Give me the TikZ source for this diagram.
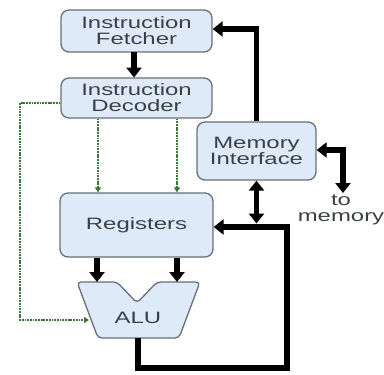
\documentclass[tikz,border=0pt]{standalone}
\usepackage{fontspec}
\newfontfamily\lab[FakeStretch=1.45]{Liberation Sans}
\usetikzlibrary{arrows.meta,calc}
\definecolor{boxfill}{RGB}{222,234,248}
\definecolor{boxline}{RGB}{105,112,120}
\definecolor{txt}{RGB}{60,64,70}
\definecolor{ctl}{RGB}{55,120,55}
\tikzset{
  unit/.style={draw=boxline, line width=1.3pt, fill=boxfill, rounded corners=8pt,
    text=txt, align=center, inner sep=0pt, font=\lab\fontsize{16.5}{16}\selectfont},
  bus/.style={line width=5.5pt, draw=black, -{Triangle[width=15pt,length=10pt]}},
  bibus/.style={line width=5.5pt, draw=black, {Triangle[width=15pt,length=10pt]}-{Triangle[width=15pt,length=10pt]}},
  ctrl/.style={draw=ctl, line width=1.4pt, dash pattern=on 1.8pt off 0.9pt, -{Triangle[width=6pt,length=5pt]}},
  lbl/.style={text=txt, align=center, font=\lab\fontsize{16.5}{16}\selectfont}
}
\begin{document}
\begin{tikzpicture}[x=1pt,y=-1pt]
\useasboundingbox (0,0) rectangle (384,375);
\node[unit, minimum width=151pt, minimum height=42pt] (fetch) at (136.5,31) {Instruction\\Fetcher};
\node[unit, minimum width=151pt, minimum height=40pt] (dec) at (136.5,98) {Instruction\\Decoder};
\node[unit, minimum width=119pt, minimum height=58pt] (mem) at (256.5,151) {Memory\\Interface};
\node[unit, minimum width=153pt, minimum height=64pt] (reg) at (136.5,225) {Registers};
% ALU shape
\coordinate (a1) at (97,282);
\coordinate (a2) at (177,282);
\filldraw[draw=boxline, line width=1.3pt, fill=boxfill, rounded corners=4pt]
  (77,282) -- (117,282) -- (137,303) -- (157,282) -- (200,282) -- (179,338) -- (98,338) -- cycle;
\node[lbl] (alu) at (138,318) {ALU};
\coordinate (aluout) at (138,338);
\coordinate (aluin) at (89,320);
% memory side
\node[lbl] (tomem) at (341,210) {to\\memory};
\coordinate (memc) at (343,150);
\coordinate (memd) at (343,193);
\coordinate (ret) at (287,227);
\coordinate (bot) at (287,368);
% control lines
\coordinate (g1) at (20,103);
\coordinate (g2) at (20,320);
\coordinate (d1) at (98,0);
\coordinate (d2) at (177,0);
\draw[ctrl] (dec.west |- g1) -- (g1) -- (g2) -- (aluin);
\draw[ctrl] (dec.south -| d1) -- (reg.north -| d1);
\draw[ctrl] (dec.south -| d2) -- (reg.north -| d2);
% buses
\draw[bus] (134,52) -- (134,77.5);
\draw[bus] (mem.north) |- ([yshift=2pt]fetch.east);
\draw[bibus] (mem.east |- memc) -- (memc) -- (memd);
\draw[bibus] (mem.south) -- ([yshift=3.5pt]mem.south |- ret);
\draw[bus] (aluout) -- (aluout |- bot) -- (bot) -- (ret) -- (reg.east |- ret);
\draw[bus] (reg.south -| a1) -- (a1);
\draw[bus] (reg.south -| a2) -- (a2);
\end{tikzpicture}
\end{document}
